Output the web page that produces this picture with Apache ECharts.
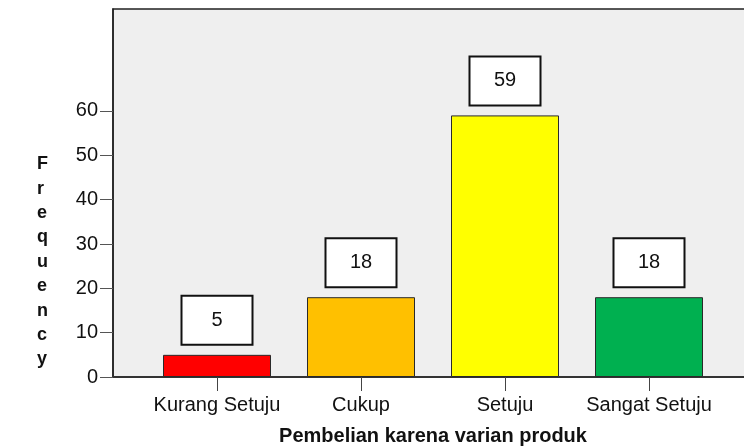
<!DOCTYPE html>
<html>
<head>
<meta charset="utf-8">
<style>
  html, body { margin: 0; padding: 0; background: #ffffff; }
  #chart { width: 744px; height: 447px; }
</style>
<script src="https://cdn.jsdelivr.net/npm/echarts@6/dist/echarts.min.js"></script>
</head>
<body>
<div id="chart"></div>
<script>
// Frequency of answers for "Pembelian karena varian produk"
var categories = ['Kurang Setuju', 'Cukup', 'Setuju', 'Sangat Setuju'];
var frequencies = [5, 18, 59, 18];
var barColors = ['#ff0000', '#ffc000', '#ffff00', '#00b050'];
var yTicks = [0, 10, 20, 30, 40, 50, 60];
var yMax = 83;
var xAxisTitle = 'Pembelian karena varian produk';
var yAxisTitle = 'Frequency';

var FONT = 'Arial, "Liberation Sans", Helvetica, sans-serif';

var chart = echarts.init(document.getElementById('chart'), null, { renderer: 'canvas' });

var option = {
  animation: false,
  backgroundColor: '#ffffff',
  textStyle: { fontFamily: FONT },
  grid: [
    // frame with the grey panel and the value axis
    {
      left: 113, top: 9, right: -20, bottom: 70,
      show: true,
      backgroundColor: '#efefef',
      borderColor: '#222222',
      borderWidth: 1.5,
      containLabel: false,
      outerBoundsMode: 'none'
    },
    // band area holding the bars
    {
      left: 145, width: 576, top: 9, bottom: 70,
      containLabel: false,
      outerBoundsMode: 'none'
    }
  ],
  xAxis: [
    {
      gridIndex: 0,
      type: 'value',
      min: 0, max: 1,
      axisLine: { show: true, onZero: false, lineStyle: { color: '#333333', width: 2 } },
      axisTick: { show: false },
      axisLabel: { show: false },
      splitLine: { show: false }
    },
    {
      gridIndex: 1,
      type: 'category',
      data: categories,
      boundaryGap: true,
      axisLine: { show: false },
      axisTick: {
        show: true,
        alignWithLabel: true,
        length: 14,
        lineStyle: { color: '#444444', width: 1 }
      },
      axisLabel: {
        interval: 0,
        margin: 18,
        color: '#111111',
        fontSize: 20,
        fontFamily: FONT
      },
      name: xAxisTitle,
      nameLocation: 'middle',
      nameGap: 49,
      nameTextStyle: {
        color: '#111111',
        fontSize: 20,
        fontWeight: 'bold',
        fontFamily: FONT
      },
      splitLine: { show: false }
    }
  ],
  yAxis: [
    {
      gridIndex: 0,
      type: 'value',
      min: 0, max: yMax,
      axisLine: { show: true, lineStyle: { color: '#222222', width: 1.5 } },
      axisTick: {
        show: true,
        length: 13,
        customValues: yTicks,
        lineStyle: { color: '#555555', width: 1 }
      },
      axisLabel: {
        margin: 15,
        customValues: yTicks,
        color: '#111111',
        fontSize: 20,
        fontFamily: FONT
      },
      splitLine: { show: false }
    },
    {
      gridIndex: 1,
      type: 'value',
      min: 0, max: yMax,
      show: false,
      splitLine: { show: false }
    }
  ],
  graphic: [
    {
      type: 'text',
      left: 37,
      top: 152,
      style: {
        text: yAxisTitle.split('').join('\n'),
        fill: '#111111',
        font: 'bold 18px ' + FONT,
        lineHeight: 24.4,
        align: 'center'
      }
    }
  ],
  series: [
    {
      type: 'bar',
      xAxisIndex: 1,
      yAxisIndex: 1,
      barWidth: 108,
      data: frequencies.map(function (v, i) {
        return {
          value: v,
          itemStyle: { color: barColors[i] }
        };
      }),
      itemStyle: {
        borderColor: '#2a2a2a',
        borderWidth: 1
      },
      label: {
        show: true,
        position: 'top',
        distance: 11,
        formatter: '{c}',
        color: '#111111',
        fontSize: 20,
        fontFamily: FONT,
        backgroundColor: '#ffffff',
        borderColor: '#111111',
        borderWidth: 2,
        width: 69,
        height: 47,
        lineHeight: 47,
        padding: 0
      }
    }
  ]
};

chart.setOption(option);
</script>
</body>
</html>
